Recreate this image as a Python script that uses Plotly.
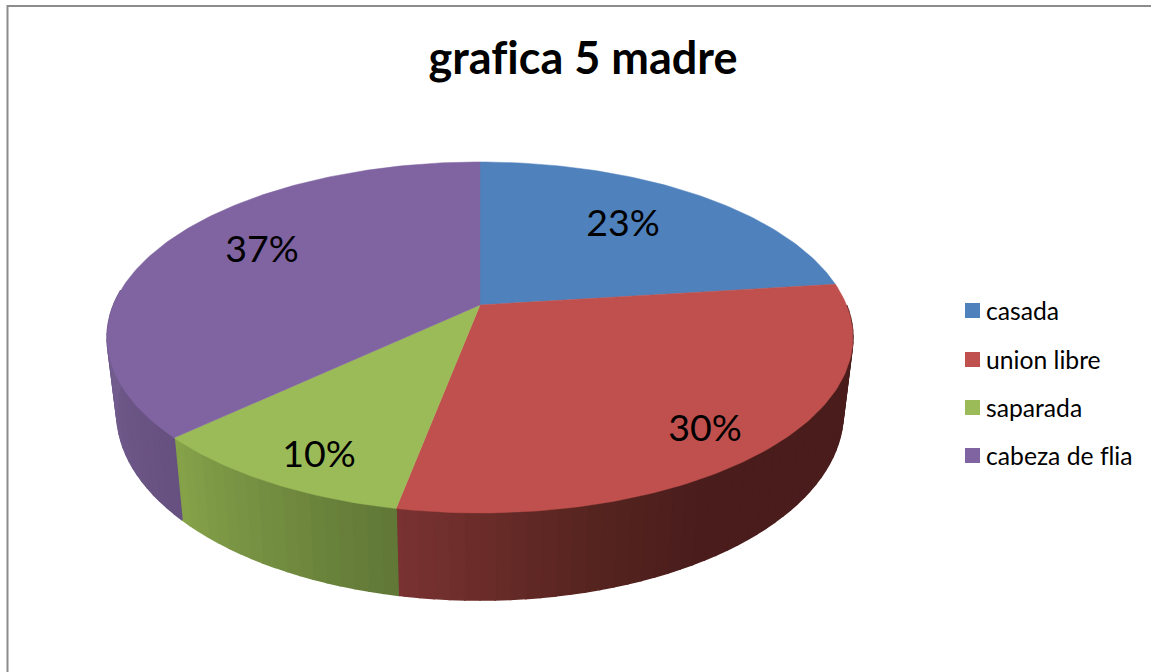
import math
import plotly.graph_objects as go

# ---- data ----
categories = ["casada", "union libre", "saparada", "cabeza de flia"]
values = [23, 30, 10, 37]
title_text = "grafica 5 madre"

# ---- styles ----
top_colors = ["#4f81bd", "#c0504d", "#9bbb59", "#8064a2"]
side_stops = [
    [(0, "#3a5f8c"), (360, "#3a5f8c")],
    [(90, "#4a1d1c"), (150, "#4a1d1c"), (165, "#55241f"), (191, "#7a3231")],
    [(190, "#5f7636"), (227, "#86a34a")],
    [(226, "#65507f"), (262, "#725c8e"), (300, "#725c8e")],
]
FONT = "Lato, Carlito, Calibri, sans-serif"
W, H = 1151, 672

# ---- projection of the two pie discs onto page coordinates ----
CX = 480
UP = dict(y0=305, a=366.5, b=169.5, k=0.185)
LOW = dict(y0=378, a=357.0, b=181.0, k=0.185)


def project(t_deg, disc):
    t = math.radians(t_deg)
    w = 1 + disc["k"] * math.cos(t)
    return CX + disc["a"] * math.sin(t) / w, disc["y0"] - disc["b"] * math.cos(t) / w


def hex_rgb(c):
    return [int(c[i:i + 2], 16) for i in (1, 3, 5)]


def shade(stops, t):
    if t <= stops[0][0]:
        return stops[0][1]
    for (t0, c0), (t1, c1) in zip(stops, stops[1:]):
        if t <= t1:
            f = (t - t0) / (t1 - t0)
            a, b = hex_rgb(c0), hex_rgb(c1)
            return "rgb(%d,%d,%d)" % tuple(round(a[i] + (b[i] - a[i]) * f) for i in range(3))
    return stops[-1][1]


total = sum(values)
bounds = [0.0]
for v in values:
    bounds.append(bounds[-1] + v / total * 360)

fig = go.Figure()

# side wall: thin shaded strips for the part of each slice facing the viewer
STEP = 2.0
for i in range(len(values)):
    lo, hi = max(bounds[i], 90), min(bounds[i + 1], 275)
    t = lo
    while t < hi:
        t2 = min(t + STEP, hi)
        p = [project(t, UP), project(t2, UP), project(t2, LOW), project(t, LOW)]
        col = shade(side_stops[i], (t + t2) / 2)
        fig.add_trace(go.Scatter(
            x=[q[0] for q in p] + [p[0][0]], y=[q[1] for q in p] + [p[0][1]],
            mode="lines", fill="toself", fillcolor=col,
            line=dict(color=col, width=1.5), hoverinfo="skip", showlegend=False))
        t = t2

# top faces
for i, cat in enumerate(categories):
    n = max(2, int(bounds[i + 1] - bounds[i]))
    pts = [project(bounds[i] + (bounds[i + 1] - bounds[i]) * j / n, UP) for j in range(n + 1)]
    apex = (CX, UP["y0"])
    xs = [apex[0]] + [q[0] for q in pts] + [apex[0]]
    ys = [apex[1]] + [q[1] for q in pts] + [apex[1]]
    fig.add_trace(go.Scatter(
        x=xs, y=ys, mode="lines", fill="toself", fillcolor=top_colors[i],
        line=dict(color=top_colors[i], width=0.5), name=cat,
        text=f"{cat}: {values[i]}%", hoverinfo="text", showlegend=False))

# percentage labels (page placement)
label_x = [623, 705, 319, 262]
label_y = [227, 432, 458, 253]
fig.add_trace(go.Scatter(
    x=label_x, y=label_y, mode="text",
    text=[f"{round(v / total * 100)}%" for v in values],
    textposition="middle center",
    textfont=dict(family=FONT, size=37.5, color="#000000"),
    hoverinfo="skip", showlegend=False))

# legend key
key_x = [972.5] * 4
key_y = [310.5, 359.5, 407.5, 455.5]
fig.add_trace(go.Scatter(
    x=key_x, y=key_y, mode="markers",
    marker=dict(symbol="square", size=15, color=top_colors, line=dict(width=0)),
    hoverinfo="skip", showlegend=False))

annotations = [
    dict(x=984, y=yy - 0.5, xref="x", yref="y", text=c, showarrow=False,
         xanchor="left", yanchor="middle",
         font=dict(family=FONT, size=24.7, color="#000000"))
    for c, yy in zip(categories, key_y)
]

fig.update_layout(
    width=W, height=H, autosize=False,
    margin=dict(l=0, r=0, t=0, b=0),
    paper_bgcolor="#ffffff", plot_bgcolor="#ffffff",
    showlegend=False,
    xaxis=dict(range=[0, W], visible=False, fixedrange=True),
    yaxis=dict(range=[H, 0], visible=False, fixedrange=True),
    title=dict(text=f"<b>{title_text}</b>", x=583 / W, xanchor="center",
               y=1 - 58 / H, yanchor="middle",
               font=dict(family=FONT, size=45, color="#000000")),
    annotations=annotations,
    shapes=[
        dict(type="line", xref="x", yref="y", x0=7, x1=W, y0=6, y1=6,
             line=dict(color="#8c8c8c", width=2)),
        dict(type="line", xref="x", yref="y", x0=7.5, x1=7.5, y0=5, y1=H,
             line=dict(color="#8c8c8c", width=2)),
    ],
)

page_css = (
    "document.body.style.margin='0';document.body.style.overflow='hidden';"
    "var s=document.createElement('style');"
    "s.textContent='svg text{font-variant-ligatures:none !important;}';"
    "document.head.appendChild(s);"
)
fig.write_html("out.html", config={"displayModeBar": False}, post_script=page_css)
